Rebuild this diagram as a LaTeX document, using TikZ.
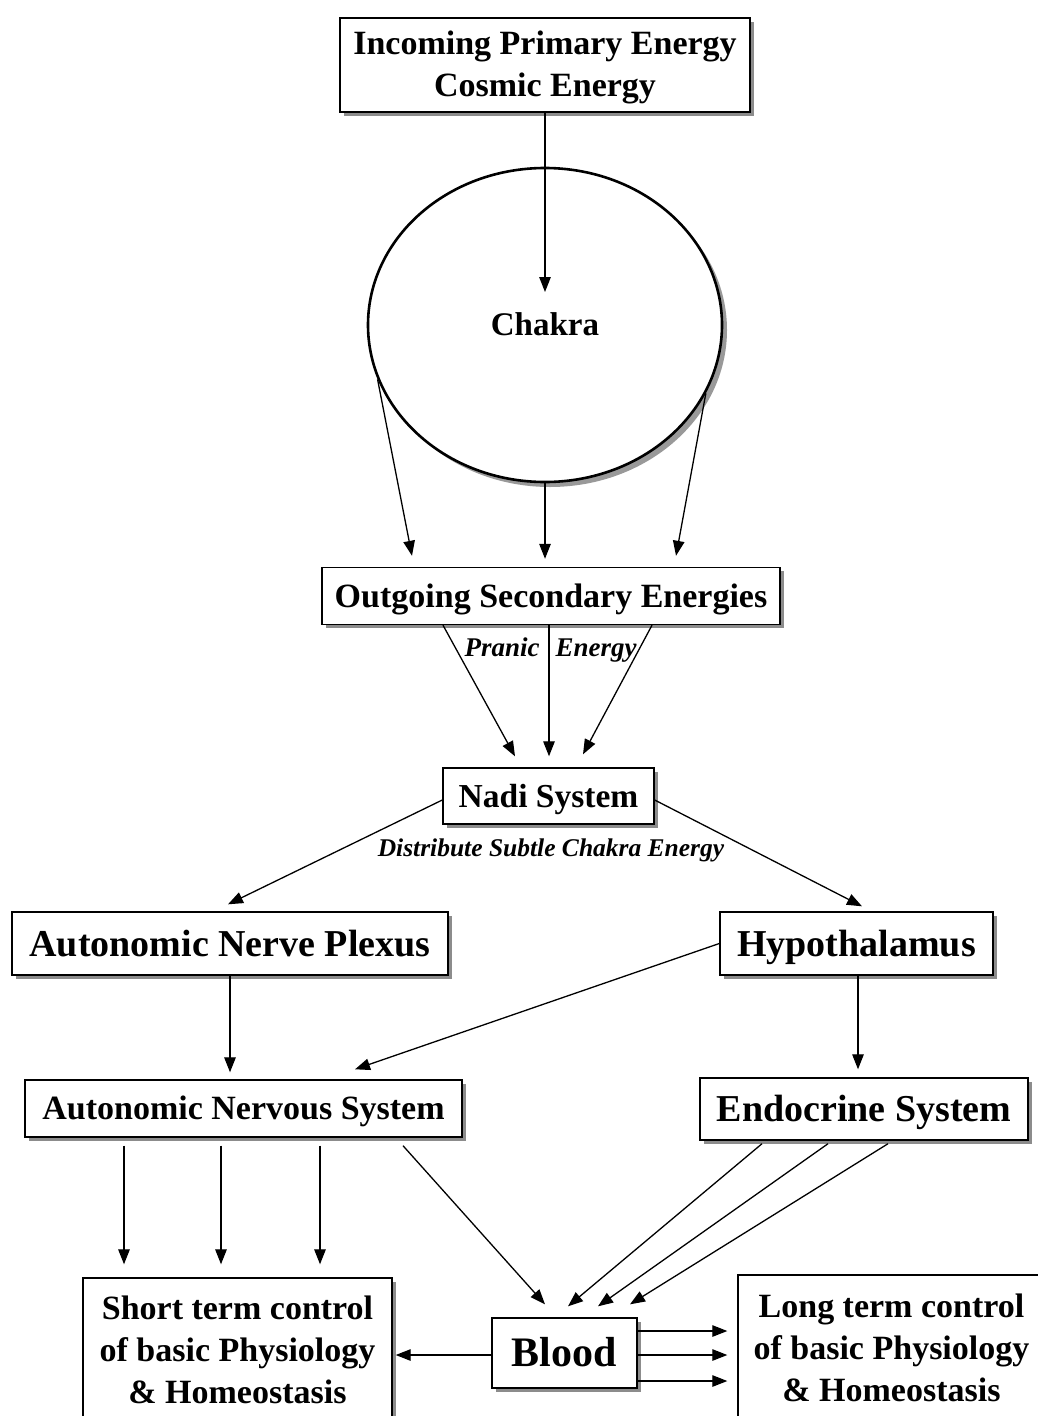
\documentclass[tikz,border=0pt]{standalone}
\usepackage{fontspec}
\setmainfont{Liberation Serif}
\usetikzlibrary{shapes.geometric,arrows.meta,calc,shadows}
\begin{document}
\begin{tikzpicture}[x=1pt,y=-1pt,
  shade box/.style={draw=black,line width=1.4pt,fill=white,
    drop shadow={shadow xshift=3.5pt,shadow yshift=-3.5pt,fill=black!45,opacity=1},
    inner sep=0pt,align=center},
  % single-line text: box height equals cap height so capitals sit centred
  cap/.style={text height=#1,text depth=0pt},
  flow/.style={line width=1.3pt,-{Triangle[length=15pt,width=11.5pt]}},
  fs/.style={font=\fontsize{#1}{#1}\selectfont\bfseries},
  lab/.style={font=\fontsize{#1}{#1}\selectfont\bfseries\itshape,inner sep=0pt}]
\useasboundingbox (0,0) rectangle (1038,1416);
\clip (0,0) rectangle (1038,1416);
\fill[white] (0,0) rectangle (1038,1416);

% boxes
\node[shade box,font=\fontsize{34}{42}\selectfont\bfseries,minimum width=410pt,minimum height=94pt] (top) at (545,65)
  {\rule{0pt}{28pt}Incoming Primary Energy\\Cosmic Energy};
\node[ellipse,draw=black,line width=2.6pt,fill=white,
  drop shadow={shadow xshift=5pt,shadow yshift=-5pt,fill=black!40,opacity=1},
  minimum width=354pt,minimum height=314pt,inner sep=0pt,cap=21.8pt,
  fs=33] (chakra) at (545,325) {Chakra};
\node[shade box,cap=22.4pt,fs=34,minimum width=458pt,minimum height=57pt] (out) at (551,596)
  {Outgoing Secondary Energies};
\node[shade box,cap=22.1pt,fs=33.5,minimum width=211pt,minimum height=56pt] (nadi) at (548.5,796)
  {Nadi System};
\node[shade box,cap=25.1pt,fs=38,minimum width=436pt,minimum height=63pt] (anp) at (230,943.5)
  {Autonomic Nerve Plexus};
\node[shade box,cap=25.1pt,fs=38,minimum width=273pt,minimum height=63pt] (hypo) at (856.5,943.5)
  {Hypothalamus};
\node[shade box,cap=22.4pt,fs=34,minimum width=437pt,minimum height=57pt] (ans) at (243.5,1108.5)
  {Autonomic Nervous System};
\node[shade box,cap=25.1pt,fs=38,minimum width=328pt,minimum height=62pt] (endo) at (864,1109)
  {Endocrine System};
\node[shade box,font=\fontsize{34}{42}\selectfont\bfseries,minimum width=309pt,minimum height=144pt] (short) at (237.5,1350)
  {Short term control\\of basic Physiology\\\& Homeostasis};
\node[shade box,cap=27.7pt,fs=42,minimum width=145pt,minimum height=70pt] (blood) at (564.5,1353)
  {Blood};
\node[shade box,font=\fontsize{34}{42}\selectfont\bfseries,minimum width=307pt,minimum height=146pt] (long) at (891.5,1348)
  {Long term control\\of basic Physiology\\\& Homeostasis};

% italic labels
\node[lab=27,cap=17.8pt] (pranic) at (502,648) {Pranic};
\node[lab=27,cap=17.8pt] (energy) at (596,648) {Energy};
\node[lab=25.5,cap=16.8pt] (distr) at (551,848) {Distribute Subtle Chakra Energy};

% connectors
\coordinate (cin) at (545,292);
\draw[flow] (top.south) -- (cin);
\draw[flow] (chakra.198) -- ($(out.north)+(-139,-11)$);
\draw[flow] (chakra.south) -- ($(out.north)+(-6,-8)$);
\draw[flow] (chakra.337) -- ($(out.north)+(125,-11)$);

\draw[flow] ($(out.south)+(-108,0)$) -- ($(nadi.north)+(-33.5,-11)$);
\draw[flow] ($(out.south)+(-2,0)$) -- ($(nadi.north)+(0.5,-11)$);
\draw[flow] ($(out.south)+(101,0)$) -- ($(nadi.north)+(34.5,-13)$);

\draw[flow] ($(nadi.west)+(0,4)$) -- ($(anp.north)+(-2,-7)$);
\draw[flow] ($(nadi.east)+(0,4)$) -- ($(hypo.north)+(5.5,-5)$);

\draw[flow] (anp.south) -- ($(ans.north)+(-13.5,-7)$);
\draw[flow] (hypo.west) -- ($(ans.north)+(111.5,-10)$);
\draw[flow] ($(hypo.south)+(1.5,0)$) -- ($(endo.north)+(-6,-8)$);

\draw[flow] ($(ans.south)+(-119.5,8)$) -- ($(short.north)+(-113.5,-13)$);
\draw[flow] ($(ans.south)+(-22.5,8)$) -- ($(short.north)+(-16.5,-13)$);
\draw[flow] ($(ans.south)+(76.5,8)$) -- ($(short.north)+(82.5,-13)$);
\draw[flow] ($(ans.south)+(159.5,8)$) -- ($(blood.north)+(-19.5,-13)$);

\draw[flow] ($(endo.south)+(-102,3)$) -- ($(blood.north)+(3.5,-11)$);
\draw[flow] ($(endo.south)+(-36,3)$) -- ($(blood.north)+(33.5,-11)$);
\draw[flow] ($(endo.south)+(24,3)$) -- ($(blood.north)+(65.5,-13)$);

\draw[flow] ($(blood.west)+(0,2)$) -- ($(short.east)+(3,5)$);
\draw[flow] ($(blood.east)+(0,-22)$) -- ($(long.west)+(-10,-17)$);
\draw[flow] ($(blood.east)+(0,2)$) -- ($(long.west)+(-10,7)$);
\draw[flow] ($(blood.east)+(0,28)$) -- ($(long.west)+(-10,33)$);
\end{tikzpicture}
\end{document}
